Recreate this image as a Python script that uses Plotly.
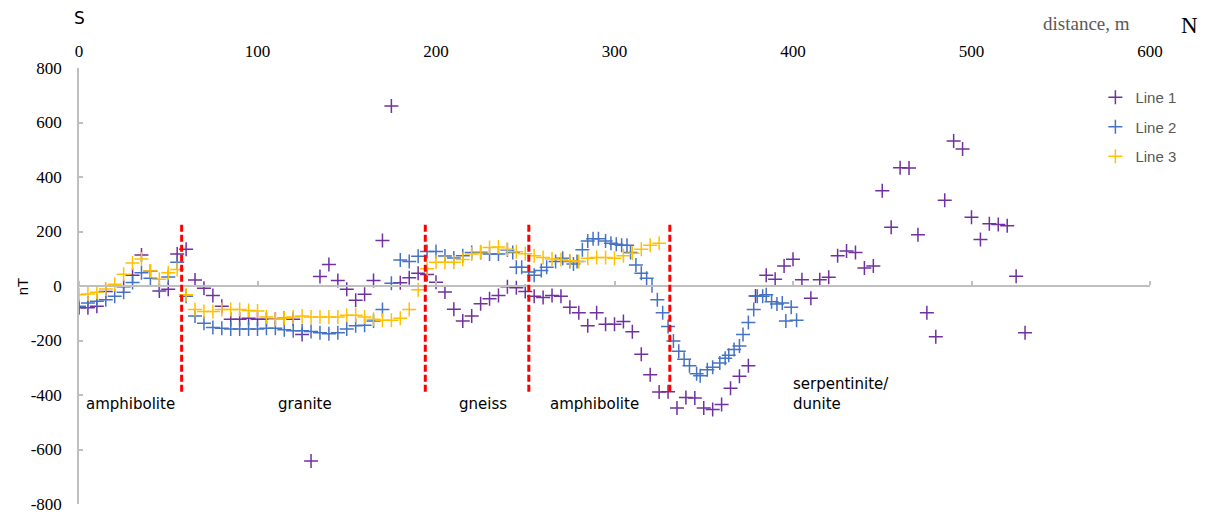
import plotly.graph_objects as go

# Magnetic profile along the traverse (distance in m, anomaly in nT)
line1_x = [0, 5, 10, 15, 25, 30, 35, 40, 45, 50, 55, 60, 65, 70, 75, 80, 85, 90, 95, 100,
           105, 110, 115, 120, 125, 130, 135, 140, 145, 150, 155, 160, 165, 170, 175, 180,
           185, 190, 195, 200, 205, 210, 215, 220, 225, 230, 235, 240, 245, 250, 255, 260,
           265, 270, 275, 280, 285, 290, 295, 300, 305, 310, 315, 320, 325, 330, 335, 340,
           345, 350, 355, 360, 365, 370, 375, 379, 385, 390, 395, 400, 405, 410, 415, 420,
           425, 430, 435, 440, 445, 450, 455, 460, 465, 470, 475, 480, 485, 490, 495, 500,
           505, 510, 515, 520, 525, 530]
line1_y = [-80, -80, -74, -20, -3, 39, 114, 54, -18, -12, 117, 135, 22, -8, -35, -74, -122, -122, -118, -122,
           -122, -122, -118, -122, -178, -642, 35, 79, 20, -12, -52, -30, 20, 167, 661, 12,
           30, 47, 42, 14, -22, -85, -128, -110, -65, -47, -35, -3, -6, -20, -38, -42,
           -35, -38, -78, -98, -146, -98, -140, -140, -130, -168, -250, -326, -389, -388, -448, -409,
           -411, -448, -453, -435, -375, -331, -293, -37, 39, 25, 73, 98, 23, -45, 23, 32,
           111, 128, 123, 66, 73, 350, 216, 434, 433, 188, -98, -186, 315, 532, 503, 252,
           171, 228, 226, 221, 36, -172]

line2_x = [0, 5, 10, 15, 20, 25, 30, 35, 40, 45, 50, 55, 60, 65, 70, 75, 80, 85, 90, 95,
           100, 105, 110, 115, 120, 125, 130, 135, 140, 145, 150, 155, 160, 165, 170, 175, 180, 185,
           190, 195, 200, 205, 210, 215, 220, 225, 230, 235, 240, 243, 245, 248, 252, 255, 259, 262,
           267, 271, 275, 277, 279, 282, 285, 288, 291, 295, 298, 301, 304, 307, 309, 312, 315, 318,
           321, 324, 327, 330, 333, 336, 339, 342, 346, 348, 352, 355, 359, 362, 364, 367, 370, 372,
           375, 378, 380, 383, 385, 388, 391, 394, 396, 399, 402]
line2_y = [-74, -62, -56, -50, -38, -23, 13, 49, 28, 1, 33, 87, -38, -110, -137, -152, -155, -158, -158, -158,
           -158, -155, -155, -161, -164, -164, -167, -172, -175, -172, -158, -146, -144, -128, -86, 10, 95, 90,
           109, 127, 127, 110, 103, 111, 123, 123, 117, 117, 132, 123, 69, 69, 51, 39, 57, 69,
           90, 102, 90, 81, 90, 133, 165, 173, 173, 165, 157, 153, 150, 150, 123, 77, 47, 28,
           1, -50, -98, -149, -202, -239, -269, -293, -322, -329, -307, -298, -283, -265, -254, -233, -220, -178,
           -134, -86, -38, -38, -32, -58, -66, -62, -128, -78, -126]

line3_x = [0, 5, 10, 15, 20, 25, 30, 35, 40, 45, 50, 55, 60, 65, 70, 75, 80, 85, 90, 95,
           100, 105, 110, 115, 120, 125, 130, 135, 140, 145, 150, 155, 160, 165, 170, 175, 180, 185,
           190, 195, 200, 205, 210, 215, 220, 225, 230, 235, 240, 245, 250, 255, 260, 265, 270, 275,
           280, 285, 290, 295, 300, 305, 310, 315, 320, 325]
line3_y = [-32, -29, -23, -11, 6, 43, 84, 99, 55, 25, 49, 61, -32, -86, -94, -94, -86, -86, -86, -90,
           -92, -114, -122, -118, -114, -110, -114, -114, -114, -114, -107, -107, -114, -122, -126, -126, -118, -86,
           -14, 63, 87, 87, 87, 97, 117, 126, 141, 143, 135, 126, 118, 111, 105, 99, 97, 93,
           90, 102, 105, 105, 102, 111, 120, 135, 150, 157]

# Lithological contacts (m) and unit labels
contacts = [57.5, 194, 252, 331]
contact_top, contact_bottom = 225, -390
units = ["amphibolite", "granite", "gneiss", "amphibolite", "serpentinite/<br>dunite"]
unit_x = [3, 110.5, 211.5, 262.5, 399]
unit_y = [-434, -434, -434, -434, -398]

y_ticks = [800, 600, 400, 200, 0, -200, -400, -600, -800]
y_tick_text = [str(v) for v in y_ticks]
x_ticks = [0, 100, 200, 300, 400, 500, 600]

series = [("Line 1", line1_x, line1_y, "#7030A0"),
          ("Line 2", line2_x, line2_y, "#4472C4"),
          ("Line 3", line3_x, line3_y, "#FFC000")]

SERIF = "Liberation Serif, Times New Roman, serif"

fig = go.Figure()
for name, xs, ys, color in series:
    fig.add_trace(go.Scatter(
        x=xs, y=ys, mode="markers", name=name, legendgroup=name,
        marker=dict(symbol="cross-thin", size=10, line=dict(width=1.5, color=color)),
    ))

# second x axis carrying the baseline and its ticks at nT = 0
fig.add_trace(go.Scatter(x=[], y=[], xaxis="x2", showlegend=False, hoverinfo="skip"))

for cx in contacts:
    fig.add_shape(type="line", x0=cx, x1=cx, y0=contact_top, y1=contact_bottom,
                  xref="x", yref="y", line=dict(color="#FF0000", width=3, dash="7px,3px"))

for txt, ux, uy in zip(units, unit_x, unit_y):
    fig.add_annotation(x=ux, y=uy, text=txt, showarrow=False, xanchor="left", yanchor="middle",
                       align="left", font=dict(family="DejaVu Sans", size=15, color="#000000"))

fig.add_annotation(x=0, xref="x", y=1.115, yref="paper", text="S", showarrow=False,
                   xanchor="center", yanchor="middle",
                   font=dict(family="DejaVu Sans", size=17, color="#000000"))
fig.add_annotation(x=1.037, y=1.098, xref="paper", yref="paper", text="N", showarrow=False,
                   xanchor="center", yanchor="middle",
                   font=dict(family=SERIF, size=23, color="#000000"))
fig.add_annotation(x=0.941, y=1.103, xref="paper", yref="paper", text="distance, m", showarrow=False,
                   xanchor="center", yanchor="middle",
                   font=dict(family=SERIF, size=19, color="#595959"))
fig.add_annotation(x=-0.053, y=0.5, xref="paper", yref="paper", text="nT", showarrow=False,
                   textangle=-90, xanchor="center", yanchor="middle",
                   font=dict(family="Liberation Sans", size=15, color="#000000"))

fig.update_layout(
    width=1210, height=524,
    margin=dict(l=79, r=60, t=68, b=10),
    paper_bgcolor="white", plot_bgcolor="white",
    font=dict(family=SERIF, size=17, color="#000000"),
    showlegend=True,
    legend=dict(x=0.949, y=0.97, xanchor="left", yanchor="top", tracegroupgap=7,
                font=dict(family="Liberation Sans", size=15, color="#595959"),
                bgcolor="rgba(0,0,0,0)", itemwidth=30),
    xaxis=dict(range=[0, 600], side="top", tickvals=x_ticks, showline=False, showgrid=False,
               zeroline=False, ticks="", ticklabelstandoff=7,
               tickfont=dict(family=SERIF, size=17, color="#000000")),
    xaxis2=dict(range=[0, 600], overlaying="x", matches="x", anchor="free", position=0.5,
                side="top", tickvals=x_ticks, showticklabels=False, ticks="outside", ticklen=4,
                tickcolor="#BFBFBF", tickwidth=1.5, showline=True, linecolor="#BFBFBF",
                linewidth=1.5, showgrid=False, zeroline=False),
    yaxis=dict(range=[-800, 800], tickvals=y_ticks, ticktext=y_tick_text, showline=True,
               linecolor="#BFBFBF", linewidth=1.5, ticks="inside", ticklen=4,
               tickcolor="#BFBFBF", tickwidth=1.5, showgrid=False, zeroline=False,
               ticklabelstandoff=12,
               tickfont=dict(family=SERIF, size=17, color="#000000")),
)

fig.write_html("out.html")
